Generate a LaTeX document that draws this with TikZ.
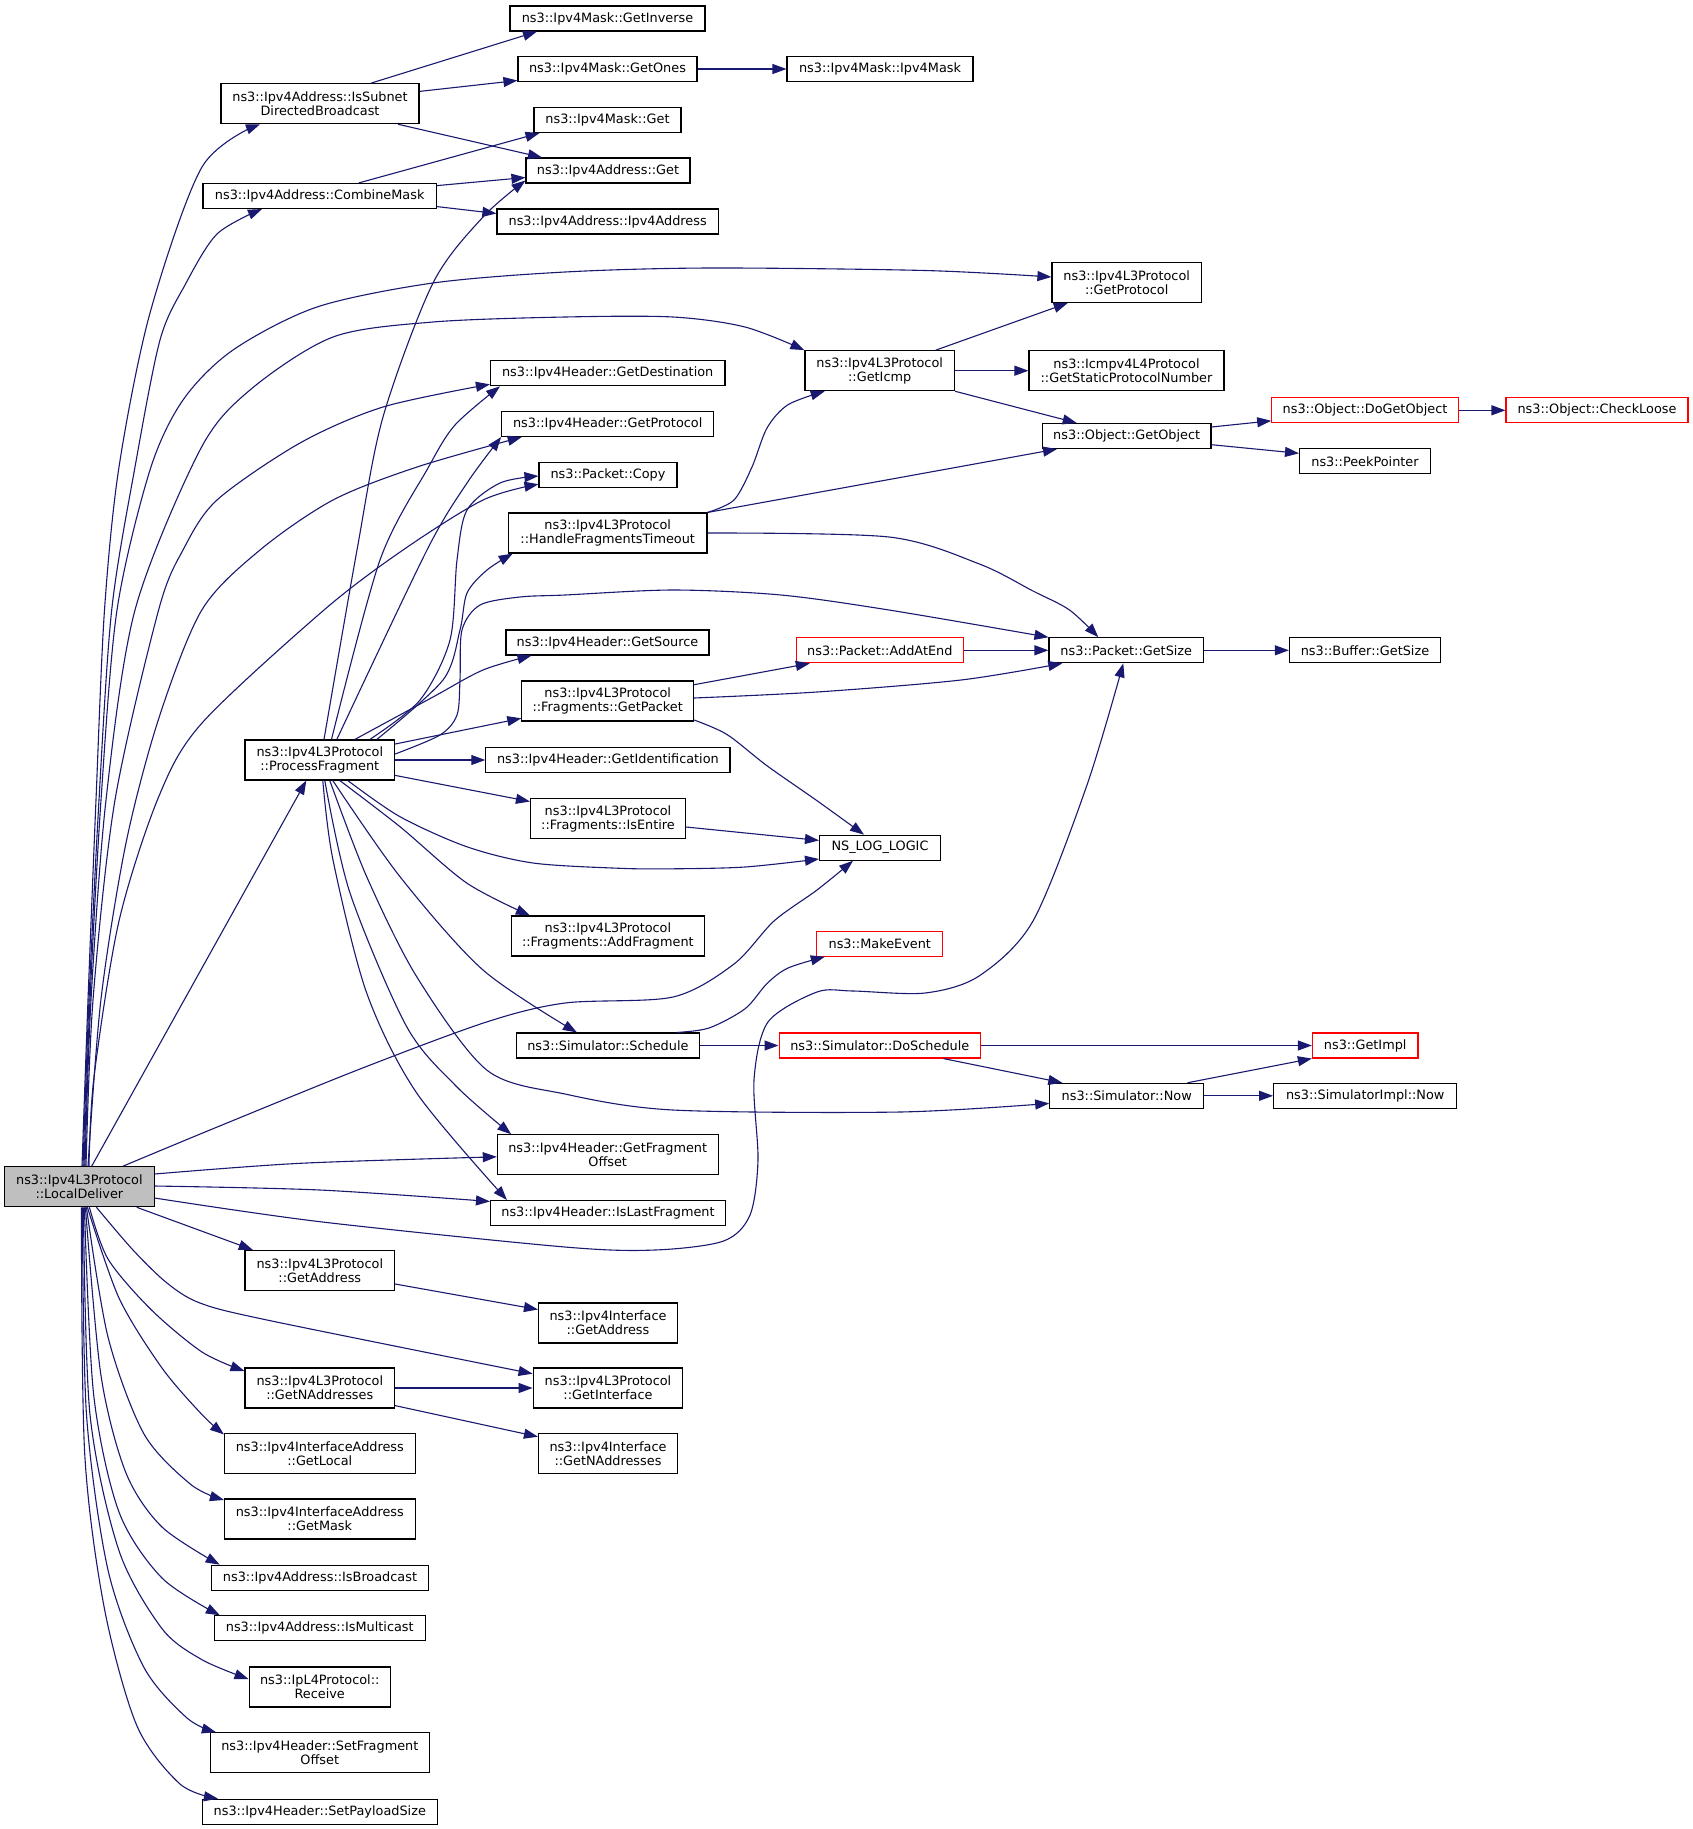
\documentclass[tikz,border=0pt]{standalone}
\usepackage{fontspec}
\setmainfont{DejaVu Sans}
\usetikzlibrary{arrows.meta,calc}
\definecolor{edgeblue}{HTML}{191970}
\definecolor{rootgrey}{HTML}{BFBFBF}
\definecolor{trunc}{HTML}{FF0000}
\newcommand\nodefont{\fontsize{12.85pt}{14pt}\selectfont}
\tikzset{
  fnbox/.style={draw=black, line width=1.1pt, fill=white, inner sep=0pt, align=center, font=\nodefont, minimum height=25pt},
  two/.style={minimum height=40pt},
  truncbox/.style={draw=trunc},
  rootbox/.style={fill=rootgrey},
  calllink/.style={draw=edgeblue, line width=1.1pt, -{Triangle[length=14pt,width=10pt]}},
}
\begin{document}
\begin{tikzpicture}[x=1pt,y=-1pt]
\useasboundingbox (0,0) rectangle (1693,1829);
\fill[white] (0,0) rectangle (1693,1829);

% ---------- nodes ----------
\node[fnbox, minimum width=195pt] (GINV) at (607.5,18.5) {ns3::Ipv4Mask::GetInverse};
\node[fnbox, minimum width=179pt] (GONES) at (607.5,69) {ns3::Ipv4Mask::GetOnes};
\node[fnbox, minimum width=186pt] (MASKC) at (880,69) {ns3::Ipv4Mask::Ipv4Mask};
\node[fnbox, minimum width=147pt] (MASKGET) at (607.5,120) {ns3::Ipv4Mask::Get};
\node[fnbox, minimum width=164pt] (ADDRGET) at (608,170.5) {ns3::Ipv4Address::Get};
\node[fnbox, two, minimum width=198pt] (ISDB) at (320,103.7) {ns3::Ipv4Address::IsSubnet\\DirectedBroadcast};
\node[fnbox, minimum width=233.5pt] (CMASK) at (319.7,196) {ns3::Ipv4Address::CombineMask};
\node[fnbox, minimum width=221.5pt] (ADDRC) at (607.7,221.5) {ns3::Ipv4Address::Ipv4Address};
\node[fnbox, two, minimum width=149.5pt] (L3GP) at (1126.7,282.5) {ns3::Ipv4L3Protocol\\::GetProtocol};
\node[fnbox, two, minimum width=149.5pt] (ICMP) at (879.7,370.7) {ns3::Ipv4L3Protocol\\::GetIcmp};
\node[fnbox, two, minimum width=195pt] (ICMPV4) at (1126.5,370.7) {ns3::Icmpv4L4Protocol\\::GetStaticProtocolNumber};
\node[fnbox, minimum width=234.5pt] (GDEST) at (607.7,373.3) {ns3::Ipv4Header::GetDestination};
\node[fnbox, minimum width=212pt] (HGP) at (607.7,424) {ns3::Ipv4Header::GetProtocol};
\node[fnbox, minimum width=168.5pt] (GOBJ) at (1126.7,436) {ns3::Object::GetObject};
\node[fnbox, truncbox, minimum width=186.5pt] (DOGOBJ) at (1365,410.3) {ns3::Object::DoGetObject};
\node[fnbox, truncbox, minimum width=182pt] (CHKL) at (1597,410.3) {ns3::Object::CheckLoose};
\node[fnbox, minimum width=131pt] (PEEK) at (1365,461.3) {ns3::PeekPointer};
\node[fnbox, minimum width=138pt] (COPY) at (608,474.7) {ns3::Packet::Copy};
\node[fnbox, two, minimum width=198.5pt] (HFT) at (607.7,533) {ns3::Ipv4L3Protocol\\::HandleFragmentsTimeout};
\node[fnbox, minimum width=203pt] (GSRC) at (607.5,642.5) {ns3::Ipv4Header::GetSource};
\node[fnbox, truncbox, minimum width=166.8pt] (ADDEND) at (879.8,650.3) {ns3::Packet::AddAtEnd};
\node[fnbox, minimum width=154.6pt] (PGS) at (1126.3,650.3) {ns3::Packet::GetSize};
\node[fnbox, minimum width=151.2pt] (BGS) at (1365,650.3) {ns3::Buffer::GetSize};
\node[fnbox, two, minimum width=171.8pt] (GPKT) at (607.7,701) {ns3::Ipv4L3Protocol\\::Fragments::GetPacket};
\node[fnbox, two, minimum width=149.6pt] (PF) at (319.8,760) {ns3::Ipv4L3Protocol\\::ProcessFragment};
\node[fnbox, minimum width=244.2pt] (GID) at (607.9,760) {ns3::Ipv4Header::GetIdentification};
\node[fnbox, two, minimum width=155pt] (ISENT) at (608,818.5) {ns3::Ipv4L3Protocol\\::Fragments::IsEntire};
\node[fnbox, minimum width=121pt] (NSLOG) at (880,847.7) {NS\_LOG\_LOGIC};
\node[fnbox, two, minimum width=192.3pt] (ADDFRAG) at (607.9,936) {ns3::Ipv4L3Protocol\\::Fragments::AddFragment};
\node[fnbox, truncbox, minimum width=125.8pt] (MKEV) at (879.8,943.7) {ns3::MakeEvent};
\node[fnbox, minimum width=183pt] (SCHED) at (607.9,1045.5) {ns3::Simulator::Schedule};
\node[fnbox, truncbox, minimum width=201.5pt] (DOSCHED) at (879.8,1045.5) {ns3::Simulator::DoSchedule};
\node[fnbox, truncbox, minimum width=105.6pt] (GIMPL) at (1365.2,1045.5) {ns3::GetImpl};
\node[fnbox, minimum width=153.9pt] (SNOW) at (1126.7,1095.8) {ns3::Simulator::Now};
\node[fnbox, minimum width=183.2pt] (SINOW) at (1365.2,1095.8) {ns3::SimulatorImpl::Now};
\node[fnbox, two, minimum width=220.7pt] (GFO) at (607.7,1154.8) {ns3::Ipv4Header::GetFragment\\Offset};
\node[fnbox, two, rootbox, minimum width=149.3pt] (LD) at (79.4,1186.7) {ns3::Ipv4L3Protocol\\::LocalDeliver};
\node[fnbox, minimum width=235pt] (ILF) at (608,1213) {ns3::Ipv4Header::IsLastFragment};
\node[fnbox, two, minimum width=149.6pt] (L3GA) at (319.8,1270.4) {ns3::Ipv4L3Protocol\\::GetAddress};
\node[fnbox, two, minimum width=139pt] (IFGA) at (608,1323) {ns3::Ipv4Interface\\::GetAddress};
\node[fnbox, two, minimum width=149.6pt] (L3GNA) at (319.8,1388) {ns3::Ipv4L3Protocol\\::GetNAddresses};
\node[fnbox, two, minimum width=149.8pt] (L3GI) at (608,1388) {ns3::Ipv4L3Protocol\\::GetInterface};
\node[fnbox, two, minimum width=139pt] (IFGNA) at (608,1453.5) {ns3::Ipv4Interface\\::GetNAddresses};
\node[fnbox, two, minimum width=190.6pt] (GLOC) at (319.8,1453.5) {ns3::Ipv4InterfaceAddress\\::GetLocal};
\node[fnbox, two, minimum width=190.6pt] (GMASK) at (319.8,1519) {ns3::Ipv4InterfaceAddress\\::GetMask};
\node[fnbox, minimum width=217.6pt] (ISBC) at (320,1577.7) {ns3::Ipv4Address::IsBroadcast};
\node[fnbox, minimum width=210.8pt] (ISMC) at (319.8,1628.3) {ns3::Ipv4Address::IsMulticast};
\node[fnbox, two, minimum width=141.3pt] (RECV) at (319.7,1687) {ns3::IpL4Protocol::\\Receive};
\node[fnbox, two, minimum width=218.7pt] (SFO) at (319.8,1752.7) {ns3::Ipv4Header::SetFragment\\Offset};
\node[fnbox, minimum width=234.6pt] (SPS) at (319.8,1811.7) {ns3::Ipv4Header::SetPayloadSize};

% ---------- straight connectors ----------
\draw[calllink] ($(ISDB.north)+(51,0)$) -- ($(GINV.south)+(-70.5,0)$);
\draw[calllink] ($(ISDB.east)+(0,-12.3)$) -- ($(GONES.west)+(0,11.5)$);
\draw[calllink] ($(ISDB.south)+(78,0)$) -- ($(ADDRGET.north)+(-66,0)$);
\draw[calllink] ($(CMASK.north)+(39,0)$) -- ($(MASKGET.south)+(-68,0)$);
\draw[calllink] ($(CMASK.east)+(0,-10.4)$) -- ($(ADDRGET.west)+(0,7)$);
\draw[calllink] ($(CMASK.east)+(0,10.6)$) -- ($(ADDRC.west)+(0,-8)$);
\draw[calllink] (GONES.east) -- (MASKC.west);
\draw[calllink] ($(ICMP.north)+(56,0)$) -- ($(L3GP.south)+(-59,0)$);
\draw[calllink] (ICMP.east) -- (ICMPV4.west);
\draw[calllink] (ICMP.south east) -- ($(GOBJ.north)+(-50,0)$);
\draw[calllink] ($(GOBJ.east)+(0,-9)$) -- ($(DOGOBJ.west)+(0,10.5)$);
\draw[calllink] ($(GOBJ.east)+(0,8.7)$) -- ($(PEEK.west)+(0,-8)$);
\draw[calllink] (DOGOBJ.east) -- (CHKL.west);
\draw[calllink] (HFT.north east) -- ($(GOBJ.south)+(-69.7,0)$);
\draw[calllink] ($(GPKT.east)+(0,-16.3)$) -- ($(ADDEND.south)+(-70,0)$);
\draw[calllink] (ADDEND.east) -- (PGS.west);
\draw[calllink] (PGS.east) -- (BGS.west);
\draw[calllink] ($(ISENT.east)+(0,8.5)$) -- ($(NSLOG.west)+(0,-7.3)$);
\draw[calllink] (PF.east) -- (GID.west);
\draw[calllink] ($(PF.east)+(0,-16)$) -- ($(GPKT.west)+(0,17.3)$);
\draw[calllink] ($(PF.east)+(0,15.4)$) -- ($(ISENT.west)+(0,-17)$);
\draw[calllink] (SCHED.east) -- (DOSCHED.west);
\draw[calllink] (DOSCHED.east) -- (GIMPL.west);
\draw[calllink] ($(DOSCHED.south)+(63.6,0)$) -- ($(SNOW.north)+(-64.4,0)$);
\draw[calllink] ($(SNOW.north)+(60.8,0)$) -- (GIMPL.south west);
\draw[calllink] (SNOW.east) -- (SINOW.west);
\draw[calllink] ($(LD.north)+(12.3,0)$) -- ($(PF.south)+(-13.5,0)$);
\draw[calllink] ($(LD.south)+(57.3,0)$) -- ($(L3GA.north)+(-67,0)$);
\draw[calllink] ($(L3GA.east)+(0,13.6)$) -- ($(IFGA.west)+(0,-13.5)$);
\draw[calllink] (L3GNA.east) -- (L3GI.west);
\draw[calllink] ($(L3GNA.east)+(0,17.6)$) -- ($(IFGNA.west)+(0,-16.8)$);

% ---------- curved connectors ----------
\draw[calllink] plot[smooth] coordinates {($(GPKT.east)+(0,-3)$) (817,692) (961,680) ($(PGS.south)+(-64,0)$)};
\draw[calllink] plot[smooth] coordinates {($(LD.east)+(0,-12.7)$) (300,1163.3) ($(GFO.west)+(0,2)$)};
\draw[calllink] plot[smooth] coordinates {($(LD.east)+(0,-0.7)$) (320,1190) ($(ILF.north west)+(0,1.5)$)};

% LocalDeliver upwards
\draw[calllink] plot[smooth] coordinates {($(LD.north)+(2.6,0)$) (88,1000) (96,800) (104.5,610) (119,467) (150,313) (202,167) ($(ISDB.south)+(-60,0)$)};
\draw[calllink] plot[smooth] coordinates {($(LD.north)+(3.6,0)$) (89,1000) (99,800) (111.7,610) (135,467) (160,340) (185,285) (217,234) ($(CMASK.south)+(-57.7,0)$)};
\draw[calllink] plot[smooth] coordinates {($(LD.north)+(4.6,0)$) (90,1000) (101,800) (117,610) (150,470) (183,400) (233,350) (317,307) (433,283) (565,272) (709,268) (925,270.5) ($(L3GP.west)+(0,-5.5)$)};
\draw[calllink] plot[smooth] coordinates {($(LD.north)+(5.6,0)$) (91,1000) (106,800) (135,610) (200,450) (250,390) (333,337) (433,322) (565,317) (673,317) (745,327) (ICMP.north west)};
\draw[calllink] plot[smooth] coordinates {($(LD.north)+(6.6,0)$) (93,1000) (115,800) (158.6,610) (183,550) (217,500) (300,443) (383,407) ($(GDEST.west)+(0,11)$)};
\draw[calllink] plot[smooth] coordinates {($(LD.north)+(8.6,0)$) (101,999) (126,843) (158.6,719) (201.8,610) (260,550) (333,500) (417,467) ($(HGP.south)+(-86,0)$)};
\draw[calllink] plot[smooth] coordinates {($(LD.north)+(9.6,0)$) (94,1077) (119,921) (158.6,797) (202,723) (324,610) (403,550) (483,500) ($(COPY.west)+(0,9.5)$)};
\draw[calllink] plot[smooth] coordinates {($(LD.north)+(43.6,0)$) (216,1127.5) (360,1069) (486.5,1022) (565,1003) (673,997) (734,964) (774,921) (817,890) ($(NSLOG.south)+(-27,0)$)};
\draw[calllink] plot[smooth] coordinates {($(LD.east)+(0,11.3)$) (320,1221.7) (565,1247) (655,1250) (723.6,1241) (750,1215) (758,1160) (754,1080) (768,1022) (817,992) (853,991) (925,993) (979,976) (1033,921) (1087,785) ($(PGS.south)+(-3,0)$)};

% LocalDeliver downwards
\draw[calllink] plot[smooth] coordinates {($(LD.south)+(17,0)$) (133,1250) (167,1283) (200,1303) (267,1320) ($(L3GI.west)+(0,-14.3)$)};
\draw[calllink] plot[smooth] coordinates {($(LD.south)+(10,0)$) (108,1259) (151,1309.5) (202,1352) ($(L3GNA.west)+(0,-17)$)};
\draw[calllink] plot[smooth] coordinates {($(LD.south)+(8,0)$) (119,1298) (162,1368) (202,1414.6) ($(GLOC.north west)+(0,1.5)$)};
\draw[calllink] plot[smooth] coordinates {($(LD.south)+(7,0)$) (108,1337) (144,1434) (191,1484.6) ($(GMASK.north west)+(0,1.5)$)};
\draw[calllink] plot[smooth] coordinates {($(LD.south)+(6,0)$) (101,1375.6) (126,1473) (162,1527) ($(ISBC.north west)+(9,0)$)};
\draw[calllink] plot[smooth] coordinates {($(LD.south)+(5,0)$) (93.7,1395) (119,1512) (162,1578) ($(ISMC.north west)+(6,0)$)};
\draw[calllink] plot[smooth] coordinates {($(LD.south)+(4,0)$) (90,1414.6) (119,1550.7) (162,1628.6) (202,1659.7) ($(RECV.west)+(0,-8)$)};
\draw[calllink] plot[smooth] coordinates {($(LD.south)+(3,0)$) (86.5,1414.6) (108,1570) (144,1667.5) (187,1718) ($(SFO.north west)+(6,0)$)};
\draw[calllink] plot[smooth] coordinates {($(LD.south)+(2,0)$) (84.7,1453.5) (104.5,1609) (137,1726) (180,1784) ($(SPS.north west)+(16,0)$)};

% ProcessFragment
\draw[calllink] plot[smooth] coordinates {($(PF.north)+(4.2,0)$) (357,550) (383,417) (433,283) (483,217) ($(ADDRGET.west)+(0,10)$)};
\draw[calllink] plot[smooth] coordinates {($(PF.north)+(11.7,0)$) (380,560) (428,468) (455,425) ($(GDEST.south)+(-107.7,0)$)};
\draw[calllink] plot[smooth] coordinates {($(PF.north)+(17,0)$) (427,550) (467,483) (HGP.south west)};
\draw[calllink] plot[smooth] coordinates {($(PF.north)+(50,0)$) (420,700) (450,640) (457,560) (467,510) (500,483) ($(COPY.west)+(0,1.3)$)};
\draw[calllink] plot[smooth] coordinates {($(PF.north)+(57,0)$) (443,680) (460,630) (467,593) (487,570) ($(HFT.south)+(-95,0)$)};
\draw[calllink] plot[smooth] coordinates {($(PF.east)+(0,-6)$) (440,735) (457,715) (460,680) (462,630) (480,605) (520,597) (565,595) (673,590) (781,595) (889,610) (PGS.north west)};
\draw[calllink] plot[smooth] coordinates {($(PF.north)+(35,0)$) (433,697) (483,670) ($(GSRC.south)+(-76,0)$)};
\draw[calllink] plot[smooth] coordinates {($(PF.south)+(28,0)$) (400,816.7) (466.7,846.7) (533,863) (620,868.3) (673,868.8) (745,867) ($(NSLOG.west)+(0,11.3)$)};
\draw[calllink] plot[smooth] coordinates {($(PF.south)+(20,0)$) (400,826.7) (466.7,883) ($(ADDFRAG.north)+(-78,0)$)};
\draw[calllink] plot[smooth] coordinates {($(PF.south)+(13,0)$) (400,876.7) (483,970) ($(SCHED.north)+(-31,0)$)};
\draw[calllink] plot[smooth] coordinates {($(PF.south)+(10,0)$) (366.7,876.7) (416.7,976.7) (486.7,1070) (565,1094) (673,1110) (900,1112) ($(SNOW.west)+(0,7.6)$)};
\draw[calllink] plot[smooth] coordinates {($(PF.south)+(5,0)$) (350,893) (406.7,1026.7) (456.7,1086.7) ($(GFO.north west)+(14.4,0)$)};
\draw[calllink] plot[smooth] coordinates {($(PF.south)+(3,0)$) (333,860) (366.7,993) (416.7,1093) ($(ILF.north west)+(17,0)$)};

% HandleFragmentsTimeout
\draw[calllink] plot[smooth] coordinates {(HFT.north east) (734,500) (752,467) (767,428) (788,404.7) ($(ICMP.south)+(-55,0)$)};
\draw[calllink] plot[smooth] coordinates {(HFT.east) (889,537) (979.4,564) (1033,591) (1069.5,610) ($(PGS.north)+(-28,0)$)};

% Fragments::GetPacket, Schedule
\draw[calllink] plot[smooth] coordinates {($(GPKT.east)+(0,19)$) (727,734.5) (766.8,765.6) (817,800.7) ($(NSLOG.north)+(-16,0)$)};
\draw[calllink] plot[smooth] coordinates {($(SCHED.north)+(68.8,0)$) (709,1028) (745,1008.8) (767,983.5) (788,968) ($(MKEV.south)+(-55,0)$)};
\end{tikzpicture}
\end{document}
